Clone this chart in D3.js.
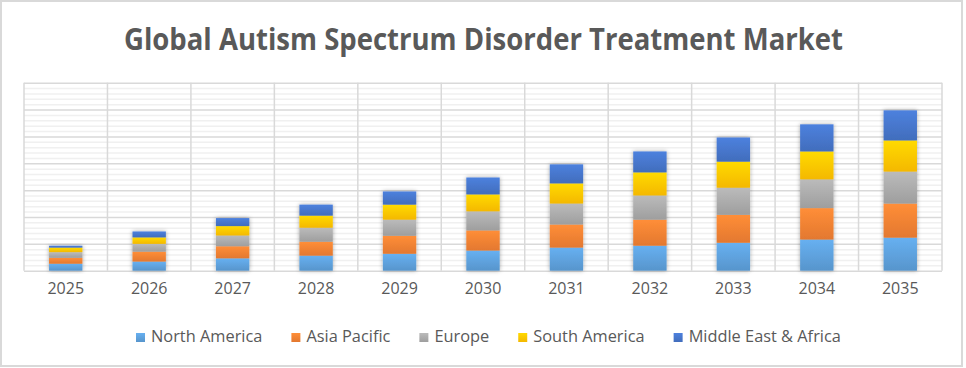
<html lang="en">
<head>
  <meta charset="UTF-8">
  <title>Global Autism Spectrum Disorder Treatment Market</title>
  <script src="https://d3js.org/d3.v7.min.js"></script>
</head>
<style>
  body {
    margin: 0;
    background: white;
  }
  text {
    font-family: "Open Sans", "Noto Sans", sans-serif;
  }
</style>
<body>
  <svg class="chart" width="966" height="368"></svg>
  <script>
    // data (units = one major gridline)
    const years = ["2025", "2026", "2027", "2028", "2029", "2030", "2031", "2032", "2033", "2034", "2035"];
    const seriesNames = ["North America", "Asia Pacific", "Europe", "South America", "Middle East & Africa"];
    const seriesColors = ["#5b9bd5", "#ed7d31", "#a5a5a5", "#ffc000", "#4472c4"];
    const northAmerica = [0.26, 0.34, 0.46, 0.56, 0.63, 0.75, 0.86, 0.93, 1.04, 1.16, 1.23];
    const asiaPacific = [0.22, 0.37, 0.45, 0.52, 0.67, 0.75, 0.86, 0.97, 1.04, 1.17, 1.27];
    const europe = [0.21, 0.29, 0.40, 0.52, 0.60, 0.71, 0.78, 0.90, 1.01, 1.07, 1.19];
    const southAmerica = [0.17, 0.24, 0.35, 0.45, 0.56, 0.63, 0.75, 0.86, 0.97, 1.04, 1.16];
    const middleEastAfrica = [0.07, 0.22, 0.30, 0.41, 0.49, 0.63, 0.71, 0.78, 0.90, 1.01, 1.12];
    const yTicks = [0, 1, 2, 3, 4, 5, 6, 7];

    const svg = d3.select('svg.chart');
    const plot = { left: 24, right: 942, top: 82.7, bottom: 270.7 };

    // outer frame
    svg.append('rect')
      .attr('x', 1).attr('y', 1)
      .attr('width', 961).attr('height', 365)
      .attr('fill', 'white')
      .attr('stroke', '#d9d9d9')
      .attr('stroke-width', 2);

    // build table for the stack
    const table = years.map((y, i) => ({
      year: y,
      "North America": northAmerica[i],
      "Asia Pacific": asiaPacific[i],
      "Europe": europe[i],
      "South America": southAmerica[i],
      "Middle East & Africa": middleEastAfrica[i]
    }));
    const stacked = d3.stack().keys(seriesNames)(table);

    const xScale = d3.scaleBand().domain(years).range([plot.left, plot.right]).padding(0);
    const yScale = d3.scaleLinear().domain([0, 7]).range([plot.bottom, plot.top]);
    const barWidth = xScale.bandwidth() * 0.4;

    // gradients + shadow
    const defs = svg.append('defs');
    seriesColors.forEach((c, i) => {
      const g = defs.append('linearGradient')
        .attr('id', 'grad' + i)
        .attr('x1', 0).attr('y1', 0).attr('x2', 0).attr('y2', 1);
      g.append('stop').attr('offset', '0%').attr('stop-color', d3.color(c).brighter(0.35));
      g.append('stop').attr('offset', '100%').attr('stop-color', d3.color(c).darker(0.12));
    });
    const shadow = defs.append('filter').attr('id', 'shadow')
      .attr('x', '-30%').attr('y', '-10%').attr('width', '160%').attr('height', '120%');
    shadow.append('feDropShadow')
      .attr('dx', 0).attr('dy', 0)
      .attr('stdDeviation', 2.2)
      .attr('flood-color', '#000')
      .attr('flood-opacity', 0.35);

    // minor gridlines
    const minorTicks = d3.range(0, 7.001, 0.2).filter(v => Math.abs(v - Math.round(v)) > 0.01);
    svg.append('g')
      .attr('class', 'minor gridlines')
      .attr('transform', `translate(${plot.left},0)`)
      .call(d3.axisLeft(yScale).tickValues(minorTicks).tickSize(-(plot.right - plot.left)).tickFormat(''))
      .call(g => g.select('.domain').remove())
      .call(g => g.selectAll('line').attr('stroke', '#f0f0f0').attr('stroke-width', 1.5));

    // major gridlines
    svg.append('g')
      .attr('class', 'major gridlines')
      .attr('transform', `translate(${plot.left},0)`)
      .call(d3.axisLeft(yScale).tickValues(yTicks).tickSize(-(plot.right - plot.left)).tickFormat(''))
      .call(g => g.select('.domain').remove())
      .call(g => g.selectAll('line').attr('stroke', '#d9d9d9').attr('stroke-width', 1.5));

    // vertical category gridlines
    const bounds = years.map(y => xScale(y)).concat([plot.right]);
    svg.append('g')
      .attr('class', 'x gridlines')
      .selectAll('line')
      .data(bounds)
      .join('line')
      .attr('x1', d => d).attr('x2', d => d)
      .attr('y1', plot.top).attr('y2', plot.bottom)
      .attr('stroke', '#d9d9d9')
      .attr('stroke-width', 1.5);

    // bars
    const barGroups = svg.append('g').attr('class', 'bars')
      .selectAll('g')
      .data(years)
      .join('g')
      .attr('filter', 'url(#shadow)');
    barGroups.each(function (year, yi) {
      const g = d3.select(this);
      stacked.forEach((layer, si) => {
        const d = layer[yi];
        g.append('rect')
          .attr('x', xScale(year) + (xScale.bandwidth() - barWidth) / 2)
          .attr('y', yScale(d[1]))
          .attr('width', barWidth)
          .attr('height', yScale(d[0]) - yScale(d[1]))
          .attr('fill', `url(#grad${si})`);
      });
    });

    // bottom axis
    const bottomAxis = d3.axisBottom(xScale).tickSize(0).tickPadding(12);
    svg.append('g')
      .attr('class', 'x axis')
      .attr('transform', `translate(0,${plot.bottom})`)
      .call(bottomAxis)
      .call(g => g.select('.domain').remove())
      .call(g => g.selectAll('text')
        .attr('fill', '#595959')
        .style('font-size', '16px')
        .style('font-family', '"Open Sans", sans-serif'));

    // title, squeezed to the reference width (Calibri is narrower)
    svg.append('text')
      .attr('x', 483.5)
      .attr('y', 50)
      .attr('text-anchor', 'middle')
      .attr('fill', '#595959')
      .attr('textLength', 719)
      .attr('lengthAdjust', 'spacingAndGlyphs')
      .style('font-weight', 'bold')
      .style('font-size', '30px')
      .text('Global Autism Spectrum Disorder Treatment Market');

    // legend
    const legend = svg.append('g').attr('class', 'legend');
    let fs = 16;
    const items = seriesNames.map((name, i) => {
      const t = legend.append('text')
        .attr('y', 342)
        .attr('fill', '#595959')
        .style('font-size', fs + 'px')
        .text(name);
      return { t: t, w: t.node().getComputedTextLength(), i: i };
    });
    const sq = 9, gapIn = 6, gapOut = 29;
    let textTotal = d3.sum(items, d => d.w);
    const scale = (705 - 5 * (sq + gapIn) - 4 * gapOut) / textTotal;
    fs = fs * scale;
    let cx = 136;
    items.forEach(d => {
      d.t.style('font-size', fs + 'px');
      const w = d.t.node().getComputedTextLength();
      legend.append('rect')
        .attr('x', cx).attr('y', 333)
        .attr('width', sq).attr('height', sq)
        .attr('fill', `url(#grad${d.i})`);
      d.t.attr('x', cx + sq + gapIn);
      cx += sq + gapIn + w + gapOut;
    });
  </script>
</body>
</html>
